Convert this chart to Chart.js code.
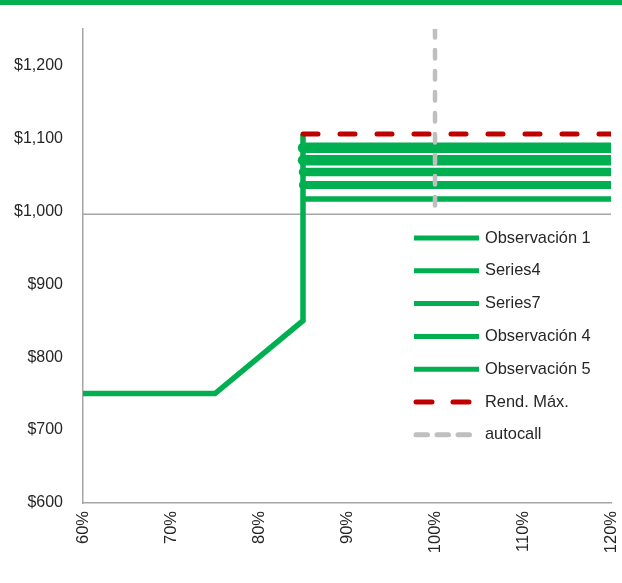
<!DOCTYPE html>
<html>
<head>
<meta charset="utf-8">
<script src="https://cdn.jsdelivr.net/npm/chart.js@4.4.0/dist/chart.umd.min.js"></script>
<style>
  html, body { margin: 0; padding: 0; background: #fff; }
  #wrap { position: relative; width: 622px; height: 583px; }
  #topbar { position: absolute; left: 0; top: 0; width: 622px; height: 5px; background: #00B050; }
  #chart { position: absolute; left: 0; top: 0; }
</style>
</head>
<body>
<div id="wrap">
  <canvas id="chart" width="622" height="583"></canvas>
  <div id="topbar"></div>
</div>
<script>
// values
const xTicks = [60, 70, 80, 90, 100, 110, 120];
const yTicks = [600, 700, 800, 900, 1000, 1100, 1200];

const lowerX = [60, 75, 80, 85];        // payoff below the barrier
const lowerY = [750, 750, 800, 850];
const jumpX = 85;
const jumpTop = 1106;
const endX = 120;

const obsNames = ['Observación 1', 'Series4', 'Series7', 'Observación 4', 'Observación 5'];
const obsLevels = [1087, 1070, 1054, 1036, 1017];

const rendMaxName = 'Rend. Máx.';
const rendMaxLevel = 1106;

const autocallName = 'autocall';
const autocallX = 100;
const autocallY = [1250, 1000];

const refLevel = 996;

// styling
const GREEN = '#00B050';
const RED = '#C00000';
const GREY = '#BFBFBF';
const TEXT = '#262626';
const FONT = "'Liberation Sans', Arial, sans-serif";
const obsWidths = [10.5, 10.5, 8.5, 8, 5.5];

const datasets = obsNames.map((name, i) => {
  let pts = [{ x: jumpX, y: obsLevels[i] }, { x: endX, y: obsLevels[i] }];
  if (i === obsNames.length - 1) {
    // the thin one also carries the lower curve and the jump
    pts = lowerX.map((x, k) => ({ x: x, y: lowerY[k] }))
      .concat([{ x: jumpX, y: jumpTop }], pts);
  }
  return {
    label: name,
    data: pts,
    borderColor: GREEN,
    borderWidth: obsWidths[i],
    borderCapStyle: 'round',
    order: 5
  };
});

datasets.push({
  label: rendMaxName,
  data: [{ x: jumpX, y: rendMaxLevel }, { x: endX, y: rendMaxLevel }],
  borderColor: RED,
  borderWidth: 5,
  borderDash: [15, 22],
  borderCapStyle: 'round',
  legendDash: [16, 21],
  order: 1
});

datasets.push({
  label: autocallName,
  data: autocallY.map(y => ({ x: autocallX, y: y })),
  borderColor: GREY,
  borderWidth: 4.5,
  borderDash: [8.5, 12.5],
  borderCapStyle: 'round',
  legendDash: [11.5, 9.5],
  order: 0
});

datasets.push({
  label: 'ref',
  hideInLegend: true,
  data: [{ x: xTicks[0], y: refLevel }, { x: endX, y: refLevel }],
  borderColor: '#A6A6A6',
  borderWidth: 1.5,
  order: 9
});

// legend drawn inside the plot, right side
const insideLegend = {
  id: 'insideLegend',
  afterDraw(chart) {
    const ctx = chart.ctx;
    const items = chart.data.datasets.filter(d => !d.hideInLegend);
    let y = 238;
    ctx.save();
    items.forEach(d => {
      ctx.beginPath();
      ctx.strokeStyle = d.borderColor;
      ctx.lineWidth = 5;
      ctx.lineCap = d.legendDash ? 'round' : 'butt';
      ctx.setLineDash(d.legendDash || []);
      const x0 = d.legendDash ? 416 : 414;
      ctx.moveTo(x0, y);
      ctx.lineTo(479, y);
      ctx.stroke();
      ctx.setLineDash([]);
      ctx.fillStyle = TEXT;
      ctx.font = '16.4px ' + FONT;
      ctx.textBaseline = 'middle';
      ctx.textAlign = 'left';
      ctx.fillText(d.label, 485, y);
      y += 32.8;
    });
    ctx.restore();
  }
};

const ctx = document.getElementById('chart').getContext('2d');
const chart = new Chart(ctx, {
  type: 'line',
  data: { datasets: datasets },
  plugins: [insideLegend],
  options: {
    responsive: false,
    animation: false,
    layout: { padding: { top: 29, right: 11, left: 0, bottom: 0 } },
    elements: { point: { radius: 0 }, line: { tension: 0 } },
    plugins: { legend: { display: false }, tooltip: { enabled: false } },
    scales: {
      x: {
        type: 'linear',
        min: 60,
        max: 120,
        afterBuildTicks: s => { s.ticks = xTicks.map(v => ({ value: v })); },
        afterFit: s => { s.height = 80; s.paddingLeft = 0; s.paddingRight = 0; },
        grid: { display: false, drawTicks: false },
        border: { color: '#A6A6A6', width: 1.5 },
        ticks: {
          minRotation: 90,
          maxRotation: 90,
          padding: 8,
          color: TEXT,
          font: { family: FONT, size: 16.5 },
          callback: v => v + '%'
        }
      },
      y: {
        type: 'linear',
        min: 600,
        max: 1250,
        afterBuildTicks: s => { s.ticks = yTicks.map(v => ({ value: v })); },
        afterFit: s => { s.width = 83; s.paddingTop = 0; s.paddingBottom = 0; },
        grid: { display: false, drawTicks: false },
        border: { color: '#A6A6A6', width: 1.5 },
        ticks: {
          padding: 20,
          color: TEXT,
          font: { family: FONT, size: 16 },
          callback: v => '$' + v.toLocaleString('en-US')
        }
      }
    }
  }
});
</script>
</body>
</html>
